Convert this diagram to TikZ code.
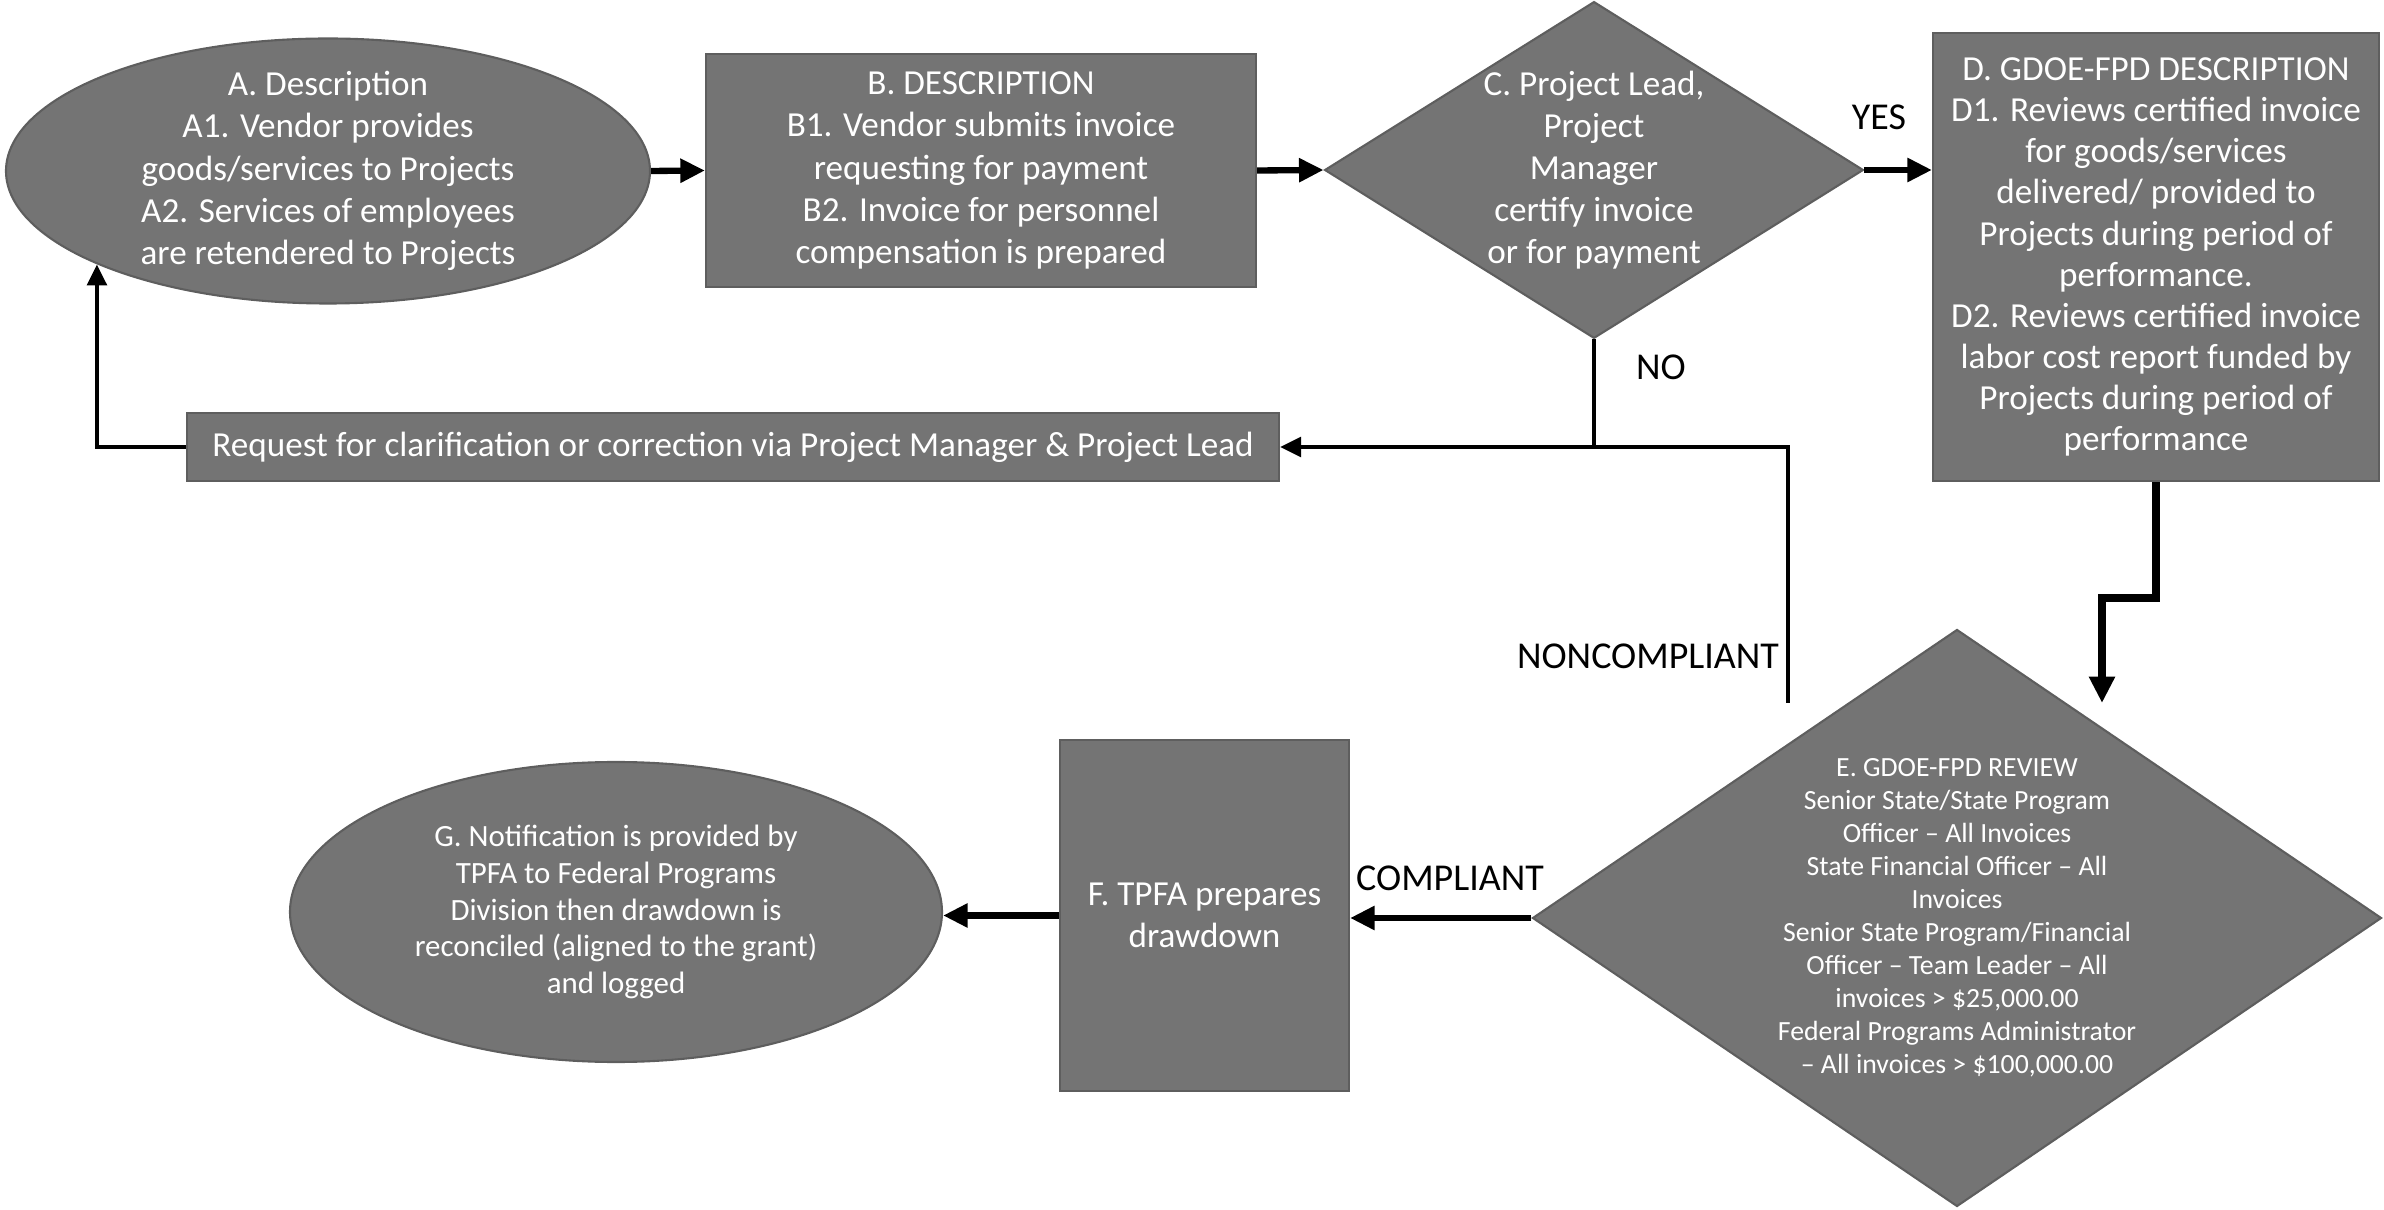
\documentclass[tikz,border=0pt]{standalone}
\usepackage{fontspec}
\setmainfont{Carlito}
\usepackage{tikz}
\usetikzlibrary{arrows.meta, calc, shapes.geometric}
\definecolor{fgray}{HTML}{747474}
\definecolor{fgraydk}{HTML}{5E5E5E}
\tikzset{
  procbox/.style  = {rectangle, fill=fgray, draw=fgraydk, line width=0.6pt,
                     text=white, align=center, inner sep=2pt,
                     font=\fontsize{10}{12}\selectfont},
  procoval/.style = {ellipse, fill=fgray, draw=fgraydk, line width=0.6pt,
                     text=white, align=center, inner sep=0pt,
                     font=\fontsize{10}{12}\selectfont},
  decide/.style   = {diamond, fill=fgray, draw=fgraydk, line width=0.6pt,
                     text=white, align=center, inner sep=0pt,
                     font=\fontsize{10}{12}\selectfont},
  flowarr/.style  = {-{Triangle[length=7pt, width=6.5pt]}, line width=1.8pt},
  thinarr/.style  = {-{Triangle[length=6pt, width=5.5pt]}, line width=1.3pt},
  thickarr/.style = {-{Triangle[length=7.5pt, width=7pt]}, line width=2.4pt},
  thinline/.style = {line width=1.3pt},
  flowlab/.style  = {font=\fontsize{10.8}{12}\selectfont, text=black, inner sep=1pt},
}

\begin{document}
\begin{tikzpicture}[x=1cm, y=1cm]
  \useasboundingbox (0,0) rectangle (23.84,12.09);
  % top row
  \node[procoval, inner ysep=-3pt, minimum width=6.44cm, minimum height=2.65cm] (A) at (3.28,10.38)
    {A. Description\\ A1. Vendor provides\\ goods/services to Projects\\ A2. Services of employees\\ are retendered to Projects};
  \node[procbox, minimum width=5.50cm, minimum height=2.33cm] (B) at (9.81,10.385)
    {B. DESCRIPTION\\ B1. Vendor submits invoice\\ requesting for payment\\ B2. Invoice for personnel\\ compensation is prepared};
  \node[decide, aspect=1.6, minimum width=5.32cm, minimum height=3.32cm] (C) at (15.94,10.39)
    {C. Project Lead,\\ Project\\ Manager\\ certify invoice\\ or for payment};
  \node[procbox, font=\fontsize{10}{11.7}\selectfont, minimum width=4.46cm, minimum height=4.48cm] (D) at (21.56,9.52)
    {D. GDOE-FPD DESCRIPTION\\ D1. Reviews certified invoice\\ for goods/services\\ delivered/ provided to\\ Projects during period of\\ performance.\\ D2. Reviews certified invoice\\ labor cost report funded by\\ Projects during period of\\ performance};
  \node[procbox, minimum width=10.92cm, minimum height=0.68cm] (R) at (7.33,7.62)
    {Request for clarification or correction via Project Manager \& Project Lead};
  % bottom row
  \node[decide, aspect=1.47, font=\fontsize{7.9}{9.4}\selectfont, minimum width=8.49cm, minimum height=5.77cm] (E) at (19.57,2.91)
    {E. GDOE-FPD REVIEW\\ Senior State/State Program\\ Officer – All Invoices\\ State Financial Officer – All\\ Invoices\\ Senior State Program/Financial\\ Officer – Team Leader – All\\ invoices > \$25,000.00\\ Federal Programs Administrator\\ – All invoices > \$100,000.00};
  \node[procbox, minimum width=2.89cm, minimum height=3.51cm] (F) at (12.045,2.935)
    {F. TPFA prepares\\ drawdown};
  \node[procoval, font=\fontsize{8.8}{10.5}\selectfont, minimum width=6.52cm, minimum height=3.00cm] (G) at (6.16,2.97)
    {G. Notification is provided by\\ TPFA to Federal Programs\\ Division then drawdown is\\ reconciled (aligned to the grant)\\ and logged};
  % free ends
  \coordinate (NC) at (17.88,5.06);
  \coordinate (ET) at (21.02,5.06);
  \coordinate (J) at (C.south |- R.east);
  % connectors
  \draw[flowarr] (A.east) -- (B.west);
  \draw[flowarr] (B.east) -- (C.west);
  \draw[flowarr] (C.east) -- (C.east -| D.west);
  \draw[thinarr] (C.south) -- (J) -- (R.east);
  \draw[thinline] (NC) |- (J);
  \draw[thinarr] (R.west) -| (A.202);
  \draw[thickarr] (D.south) -- ++(0,-1.16) -| (ET);
  \draw[flowarr] (E.west) -- (E.west -| F.east);
  \draw[flowarr] (F.west) -- (F.west -| G.east);
  % labels
  \node[flowlab] (yes) at (18.79,10.92) {YES};
  \node[flowlab] (no) at (16.61,8.42) {NO};
  \node[flowlab, anchor=east] (noncomp) at (17.83,5.53) {NONCOMPLIANT};
  \node[flowlab] (comp) at (14.50,3.31) {COMPLIANT};
\end{tikzpicture}
\end{document}
